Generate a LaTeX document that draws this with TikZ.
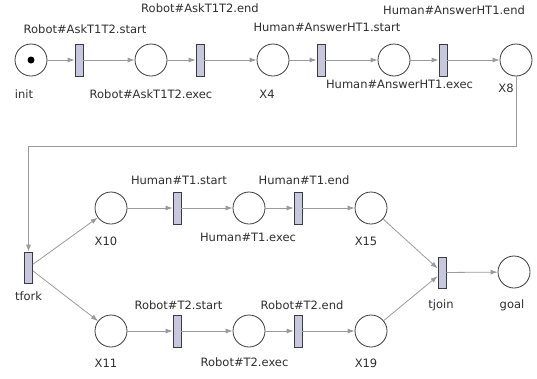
\documentclass[tikz,border=0pt]{standalone}
\usepackage{fontspec}
\setmainfont{DejaVu Sans}
\usetikzlibrary{arrows.meta}
\definecolor{placeline}{HTML}{3A3A3A}
\definecolor{transfill}{HTML}{C8C8DC}
\definecolor{transline}{HTML}{3A3A48}
\definecolor{arcline}{HTML}{9A9A9A}
\definecolor{labeltext}{HTML}{2E2E2E}
\tikzset{
  place/.style={circle, draw=placeline, line width=0.8pt, minimum size=32pt, inner sep=0pt, fill=white},
  trans/.style={rectangle, draw=transline, line width=0.8pt, fill=transfill, minimum width=8pt, minimum height=32pt, inner sep=0pt},
  arc/.style={draw=arcline, line width=0.8pt, -{Latex[length=7pt,width=5pt]}},
  plainarc/.style={draw=arcline, line width=0.8pt},
  lbl/.style={font=\fontsize{11.5}{13}\selectfont, text=labeltext, inner sep=0pt},
  token/.style={circle, fill=black, minimum size=7pt, inner sep=0pt}
}
\begin{document}
\begin{tikzpicture}[x=1pt,y=-1pt]
\useasboundingbox (0,0) rectangle (537,378);
% row 1
\node[place] (init) at (31,60) {};
\node[token] (tok) at (31,60) {};
\node[trans] (t1) at (79,60) {};
\node[place] (p1) at (151,60) {};
\node[trans] (t2) at (200,60) {};
\node[place] (X4) at (273,60) {};
\node[trans] (t3) at (321,60) {};
\node[place] (p2) at (394,60) {};
\node[trans] (t4) at (443,60) {};
\node[place] (X8) at (516,60) {};
% row 2
\node[trans, minimum height=31pt] (tfork) at (28.5,267.5) {};
\node[place] (X10) at (111,208) {};
\node[trans] (t5) at (177,208) {};
\node[place] (p3) at (249,208) {};
\node[trans] (t6) at (298,208) {};
\node[place] (X15) at (371,208) {};
\node[trans, minimum height=31pt] (tjoin) at (442,272.5) {};
\node[place] (goal) at (514,272) {};
% row 3
\node[place] (X11) at (111,331) {};
\node[trans] (t7) at (177,331) {};
\node[place] (p4) at (249,331) {};
\node[trans] (t8) at (298,331) {};
\node[place] (X19) at (371,331) {};
% labels
\node[lbl] (linit) at (24,94) {init};
\node[lbl] (lt1) at (85,29) {Robot\#AskT1T2.start};
\node[lbl] (lp1) at (151,94) {Robot\#AskT1T2.exec};
\node[lbl] (lt2) at (200,8) {Robot\#AskT1T2.end};
\node[lbl] (lX4) at (267,94) {X4};
\node[lbl] (lt3) at (327,27) {Human\#AnswerHT1.start};
\node[lbl] (lp2) at (399.5,84) {Human\#AnswerHT1.exec};
\node[lbl] (lt4) at (454,10) {Human\#AnswerHT1.end};
\node[lbl] (lX8) at (506,88) {X8};
\node[lbl] (ltfork) at (28.5,296) {tfork};
\node[lbl] (lt5) at (179,180) {Human\#T1.start};
\node[lbl] (lt6) at (304,180) {Human\#T1.end};
\node[lbl] (lX10) at (106,241) {X10};
\node[lbl] (lp3) at (248,237) {Human\#T1.exec};
\node[lbl] (lX15) at (366,241) {X15};
\node[lbl] (ltjoin) at (441,305) {tjoin};
\node[lbl] (lgoal) at (512,305) {goal};
\node[lbl] (lt7) at (178.5,305) {Robot\#T2.start};
\node[lbl] (lt8) at (302,305) {Robot\#T2.end};
\node[lbl] (lX11) at (106,363) {X11};
\node[lbl] (lp4) at (244.5,362) {Robot\#T2.exec};
\node[lbl] (lX19) at (366,363) {X19};
% arcs row 1
\draw[arc] (init) -- (t1);
\draw[arc] (t1) -- (p1);
\draw[arc] (p1) -- (t2);
\draw[arc] (t2) -- (X4);
\draw[arc] (X4) -- (t3);
\draw[arc] (t3) -- (p2);
\draw[arc] (p2) -- (t4);
\draw[arc] (t4) -- (X8);
% connector X8 -> tfork
\coordinate (bendy) at (0,146);
\draw[arc] (X8.south) -- (X8.south |- bendy) -| (tfork.north);
% fork
\draw[arc] (tfork) -- (X10);
\draw[arc] (tfork) -- (X11);
% row 2
\draw[arc] (X10) -- (t5);
\draw[arc] (t5) -- (p3);
\draw[arc] (p3) -- (t6);
\draw[arc] (t6) -- (X15);
% row 3
\draw[arc] (X11) -- (t7);
\draw[arc] (t7) -- (p4);
\draw[arc] (p4) -- (t8);
\draw[arc] (t8) -- (X19);
% join
\draw[arc] (X15) -- (tjoin);
\draw[arc] (X19) -- (tjoin);
\draw[arc] (tjoin) -- (goal);
\end{tikzpicture}
\end{document}
